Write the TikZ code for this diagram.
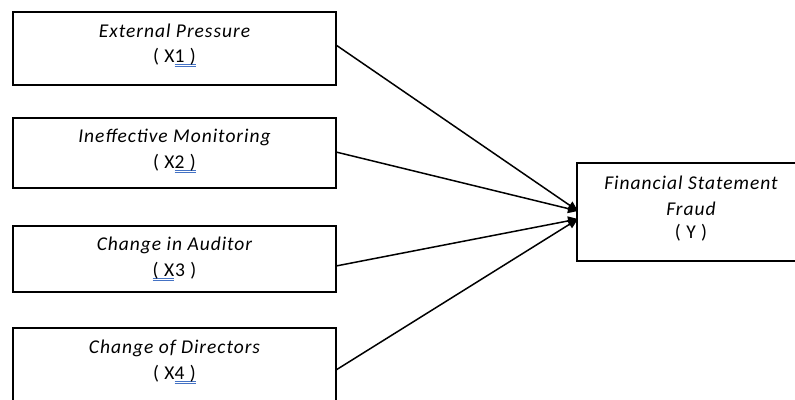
\documentclass[tikz,border=0pt]{standalone}
\usepackage{fontspec}
\setmainfont{Carlito}[LetterSpace=5]
\usetikzlibrary{arrows.meta}
\definecolor{ulblue}{RGB}{68,114,196}
\newlength{\ulw}
\newcommand{\blueul}[1]{\settowidth{\ulw}{#1}\leavevmode\rlap{\textcolor{ulblue}{\rule[-2.4pt]{\ulw}{0.6pt}}}\rlap{\textcolor{ulblue}{\rule[-4.2pt]{\ulw}{0.6pt}}}#1}
\tikzset{
  box/.style={draw=black, line width=1.4pt, inner sep=0pt},
  lbl/.style={font=\fontsize{19.5}{23}\selectfont, inner sep=0pt, align=center},
  conn/.style={draw=black, line width=1.5pt, -{Triangle[length=10pt,width=9pt]}}
}
\begin{document}
\begin{tikzpicture}[x=1pt,y=-1pt]
\clip (0,0) rectangle (795,399);
\fill[white] (0,0) rectangle (795,399);
% boxes
\draw[box] (13,12) rectangle (336,85);
\draw[box] (13,118) rectangle (336,188);
\draw[box] (13,226) rectangle (336,292);
\draw[box] (13,328) rectangle (336,420);
\draw[box] (577,163) rectangle (810,261);
\node[inner sep=0pt] (b1) at (336,45) {};
\node[inner sep=0pt] (b2) at (336,152) {};
\node[inner sep=0pt] (b3) at (336,266) {};
\node[inner sep=0pt] (b4) at (336,370) {};
\node[inner sep=0pt] (ya) at (578,211) {};
\node[inner sep=0pt] (yb) at (578,219) {};
% labels
\node[lbl] (t1a) at (174.5,31) {\itshape External Pressure};
\node[lbl] (t1b) at (174.5,57) {( X\blueul{1 )}};
\node[lbl] (t2a) at (174.5,137) {\itshape Ineffective Monitoring};
\node[lbl] (t2b) at (174.5,163) {( X\blueul{2 )}};
\node[lbl] (t3a) at (174.5,245) {\itshape Change in Auditor};
\node[lbl] (t3b) at (174.5,271) {\blueul{( X}3 )};
\node[lbl] (t4a) at (174.5,348) {\itshape Change of Directors};
\node[lbl] (t4b) at (174.5,374) {( X\blueul{4 )}};
\node[lbl] (ya1) at (691,183) {\itshape Financial Statement};
\node[lbl] (ya2) at (691,209) {\itshape Fraud};
\node[lbl] (ya3) at (691,233) {( Y )};
% connectors
\draw[conn] (b1.center) -- (ya.center);
\draw[conn] (b2.center) -- (ya.center);
\draw[conn] (b3.center) -- (yb.center);
\draw[conn] (b4.center) -- (yb.center);
\end{tikzpicture}
\end{document}
